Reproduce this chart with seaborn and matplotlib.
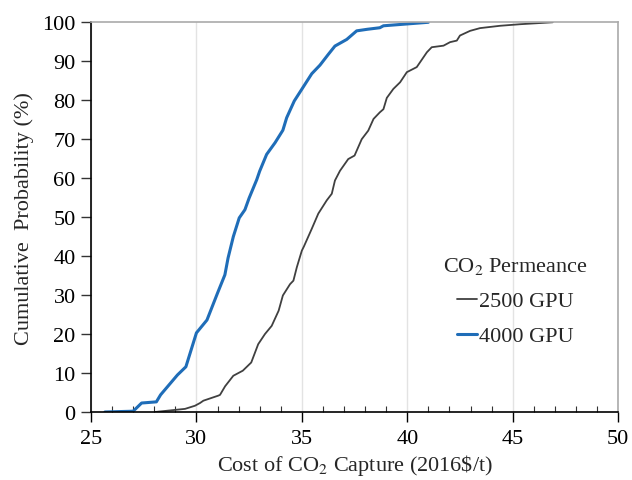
import numpy as np
import pandas as pd
import matplotlib
matplotlib.use("Agg")
import matplotlib.pyplot as plt
import seaborn as sns
from matplotlib.ticker import MultipleLocator

# ---- data ----
cost_2500 = [28.04, 29.46, 29.93, 30.17, 30.33, 31.04, 31.12, 31.36, 31.75, 32.2, 32.6, 32.93,
             33.25, 33.57, 33.9, 34.1, 34.44, 34.6, 34.76, 34.91, 35.0, 35.1, 35.47, 35.78,
             36.18, 36.42, 36.57, 36.81, 37.2, 37.5, 37.84, 38.15, 38.4, 38.7, 38.87, 39.03,
             39.34, 39.66, 39.98, 40.45, 40.93, 41.16, 41.72, 42.03, 42.35, 42.5, 42.98,
             43.45, 44.4, 45.35, 46.9]
prob_2500 = [0.0, 0.8, 1.6, 2.3, 2.9, 4.2, 4.4, 6.6, 9.3, 10.6, 12.7, 17.4,
             20.0, 22.1, 26.0, 29.9, 32.8, 33.7, 37.1, 39.8, 41.4, 42.5, 47.0, 50.9,
             54.3, 56.0, 59.4, 61.9, 64.9, 65.8, 70.0, 72.2, 75.2, 76.9, 77.7, 80.6,
             82.9, 84.6, 87.2, 88.5, 92.3, 93.6, 94.0, 94.9, 95.3, 96.6, 97.8,
             98.5, 99.1, 99.5, 100.0]

cost_4000 = [25.66, 27.0, 27.4, 28.1, 28.3, 29.1, 29.5, 30.0, 30.5, 31.0, 31.35, 31.5,
             31.75, 32.03, 32.3, 32.5, 32.86, 33.0, 33.33, 33.73, 34.1, 34.28, 34.64,
             35.15, 35.47, 35.86, 36.26, 36.57, 37.13, 37.6, 38.1, 38.7, 38.87, 41.0]
prob_4000 = [0.0, 0.2, 2.3, 2.6, 4.4, 9.5, 11.6, 20.3, 23.6, 30.5, 35.2, 39.5,
             45.0, 49.8, 51.9, 54.9, 59.6, 61.8, 66.1, 69.1, 72.3, 75.5, 79.8,
             84.1, 86.8, 89.0, 91.8, 93.9, 95.6, 97.8, 98.2, 98.6, 99.1, 100.0]

series_labels = ["2500 GPU", "4000 GPU"]
x_ticks = [25, 30, 35, 40, 45, 50]
y_ticks = list(range(0, 101, 10))

df = pd.concat([
    pd.DataFrame({"cost": cost_2500, "prob": prob_2500, "series": series_labels[0]}),
    pd.DataFrame({"cost": cost_4000, "prob": prob_4000, "series": series_labels[1]}),
], ignore_index=True)

sns.set_style("white")
plt.rcParams["font.family"] = ["Liberation Serif", "DejaVu Serif"]
plt.rcParams["mathtext.fontset"] = "stix"

FS = 16

fig = plt.figure(figsize=(6.32, 4.81), dpi=100)
ax = fig.add_axes([0.144, 0.1414, 0.834, 0.8102])

palette = {series_labels[0]: "#404040", series_labels[1]: "#1F6DB8"}
sns.lineplot(data=df, x="cost", y="prob", hue="series", palette=palette,
             sort=False, estimator=None, ax=ax, legend=True)
lines = ax.get_lines()
lines[0].set_linewidth(1.3)
lines[1].set_linewidth(2.2)

ax.set_xlim(25, 50)
ax.set_ylim(0, 100)
ax.set_xticks(x_ticks)
ax.set_yticks(y_ticks)
ax.xaxis.set_minor_locator(MultipleLocator(1))
ax.tick_params(axis="x", which="major", direction="out", length=7, width=1, colors="black",
               labelsize=FS, pad=5, bottom=True)
ax.tick_params(axis="x", which="minor", direction="in", length=4, width=0.8, colors="#333333", bottom=True)
ax.tick_params(axis="y", which="major", direction="out", length=7, width=1, colors="#333333",
               labelsize=FS, left=True, labelcolor="black", pad=4)
ax.grid(axis="x", which="major", color="#e3e3e3", linewidth=1)
ax.grid(axis="y", visible=False)
ax.set_axisbelow(True)

for s in ["left", "bottom"]:
    ax.spines[s].set_color("black")
    ax.spines[s].set_linewidth(1.2)
for s in ["top", "right"]:
    ax.spines[s].set_color("#aaaaaa")
    ax.spines[s].set_linewidth(1.2)

ax.set_xlabel(r"Cost of CO$_2$ Capture (2016\$/t)", fontsize=FS, labelpad=3)
ax.set_ylabel("Cumulative  Probability (%)", fontsize=FS, labelpad=6)

handles, labels = ax.get_legend_handles_labels()
leg = ax.legend(handles, labels, title=r"CO$_2$ Permeance", frameon=False, fontsize=FS,
                title_fontsize=FS, loc="center", bbox_to_anchor=(0.805, 0.285),
                handlelength=0.9, handletextpad=0.1, labelspacing=0.65)
leg._legend_box.align = "center"
leg.get_lines()[0].set_linewidth(1.3)
leg.get_lines()[1].set_linewidth(2.2)

fig.savefig("out.png", dpi=100)
